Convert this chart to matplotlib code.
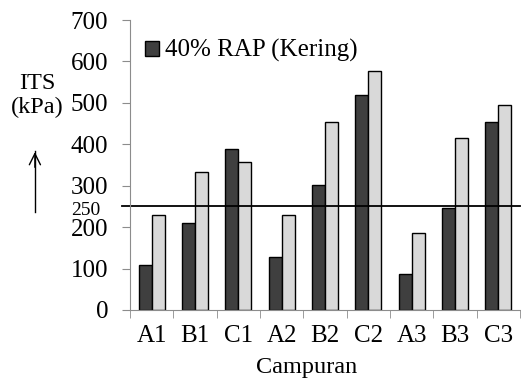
import matplotlib.pyplot as plt
import numpy as np

plt.rcParams['font.family'] = ['Liberation Serif', 'DejaVu Serif']

campuran = ['A1', 'B1', 'C1', 'A2', 'B2', 'C2', 'A3', 'B3', 'C3']
rap_kering = [108, 209, 388, 127, 301, 520, 88, 245, 454]
pembanding = [229, 333, 357, 229, 454, 578, 186, 415, 496]
batas_its = 250

fig = plt.figure(figsize=(5.21, 3.78), dpi=100)
ax = fig.add_axes([0.2495, 0.180, 0.7485, 0.767])

x = np.arange(len(campuran))
w = 0.3
ax.bar(x - w / 2, rap_kering, w, color='#3f3f3f', edgecolor='black',
       linewidth=1, label='40% RAP (Kering)')
ax.bar(x + w / 2, pembanding, w, color='#d9d9d9', edgecolor='black',
       linewidth=1)

# minimum ITS line
ax.axhline(batas_its, color='black', linewidth=1.3, xmin=-0.02,
           clip_on=False)
ax.text(-0.077, batas_its - 11, str(batas_its),
        transform=ax.get_yaxis_transform(),
        ha='right', va='center', fontsize=14)

ax.set_xlim(-0.5, len(campuran) - 0.5)
ax.set_ylim(0, 700)
ax.set_yticks(range(0, 701, 100))
ax.set_xticks(x)
ax.set_xticklabels(campuran)
ax.set_xticks(np.arange(-0.5, len(campuran), 1), minor=True)

for side in ['top', 'right']:
    ax.spines[side].set_visible(False)
for side in ['left', 'bottom']:
    ax.spines[side].set_color('#8c8c8c')

ax.tick_params(axis='y', length=5.8, color='#8c8c8c', labelsize=18, pad=10)
ax.tick_params(axis='x', which='major', length=0, labelsize=18, pad=11)
ax.tick_params(axis='x', which='minor', length=5.8, color='#8c8c8c')

ax.text(0.454, -0.2, 'Campuran', transform=ax.transAxes, ha='center',
        va='center', fontsize=17.5)

# y axis title with an arrow
fig.text(0.071, 0.78, 'ITS', ha='center', va='center', fontsize=17.5)
fig.text(0.071, 0.715, '(kPa)', ha='center', va='center', fontsize=17.5)
fig.add_artist(plt.Line2D([0.067, 0.067], [0.44, 0.60], color='black',
                          linewidth=1))
ax.annotate('', xy=(0.067, 0.605), xytext=(0.067, 0.55),
            xycoords='figure fraction', textcoords='figure fraction',
            arrowprops=dict(arrowstyle='->', color='black', lw=1,
                            mutation_scale=20))

ax.legend(loc='upper left', bbox_to_anchor=(0.0, 0.985), frameon=False,
          fontsize=18, handlelength=0.55, handleheight=0.55,
          handletextpad=0.25, borderaxespad=0.2)

fig.savefig('out.png', dpi=100)
